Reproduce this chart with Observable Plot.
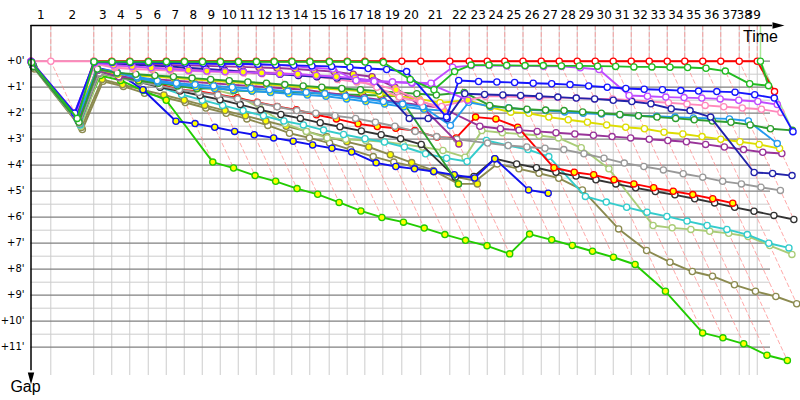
<!DOCTYPE html>
<html><head><meta charset="utf-8">
<script src="https://cdn.jsdelivr.net/npm/d3@7"></script>
<script src="https://cdn.jsdelivr.net/npm/@observablehq/plot@0.6"></script>
<style>body{margin:0;background:#fff;overflow:hidden}</style>
</head><body><div id="chart"></div>
<script>
// ---- data ----
const lapLabels = [1,2,3,4,5,6,7,8,9,10,11,12,13,14,15,16,17,18,19,20,21,22,23,24,25,26,27,28,29,30,31,32,33,34,35,36,37,38,39];
// leader's elapsed time (minutes) at the end of each lap, index = lap (0 = start); last entry = finish
const lapTimes = [0,1.65,5.23,6.73,8.23,9.77,11.27,12.77,14.27,15.77,
  17.27,18.77,20.25,21.73,23.23,24.85,26.35,27.82,29.32,30.9,
  32.48,34.9,36.52,38.02,39.48,41.0,42.52,44.02,45.52,47.02,
  48.52,50.02,51.52,53.02,54.48,55.98,57.48,59.02,59.85,60.52,60.79];
const gapTicks = [0,1,2,3,4,5,6,7,8,9,10,11];
const _ = null;
// gap to leader (minutes) per lap, index = lap (index 40 = finish)
const red = [0,2.12,0,0,0,0,0,0,0,0, 0,0,0,0,0,0,0,0,0,0, 0,0,0,0,0,0,0,0,0,0, 0,0,0,0,0,0,0,0,_,0,1.17];
const green = [0.05,2.2,0.02,0.02,0.02,0.02,0.02,0.02,0.02,0.02, 0.02,0.02,0.02,0.02,0.02,0.02,0.02,0.03,0.05,0.7, 1.1,0.4,0.15,0.15,0.16,0.17,0.17,0.18,0.18,0.19, 0.2,0.22,0.22,0.23,0.24,0.27,0.38,0.87,_,0.94,0];
const violet = [0,1.98,0.05,0.05,0.06,0.07,0.08,0.09,0.1,0.11, 0.12,0.13,0.14,0.2,0.25,0.3,0.74,0.78,0.8,0.82, 0.85,0.23,0.17,0.17,0.18,0.18,0.2,0.2,0.25,0.32, 1.32,1.35,1.38,1.4,1.42,1.45,1.5,1.55,_,1.67];
const blue = [0.03,2.0,0.03,0.04,0.05,0.06,0.07,0.08,0.09,0.1, 0.1,0.12,0.14,0.16,0.18,0.2,0.23,0.28,0.32,0.4, 2.15,0.74,0.78,0.8,0.82,0.85,0.87,0.9,0.95,1.0, 1.05,1.08,1.1,1.13,1.15,1.17,1.19,1.29,_,1.42,2.71];
const navy = [0.06,2.1,0.05,0.1,0.13,0.17,0.2,0.25,0.3,0.35, 0.4,0.45,0.5,0.55,0.6,0.65,0.7,0.74,2.2,2.2, 2.2,1.25,1.28,1.3,1.32,1.35,1.38,1.42,1.45,1.5, 1.55,1.64,1.83,1.9,2.15,4.28,4.32,4.4];
const pink = [0,0,0,0.2,0.22,0.25,0.28,0.3,0.32,0.35, 0.38,0.42,0.45,0.5,0.55,0.6,0.7,1.0,1.38,1.57, 1.74,1.5,1.35,1.35,1.38,1.4,1.4,1.42,1.45,1.45, 1.5,1.55,1.6,1.65,1.7,1.75,1.8,1.85,_,1.97];
const darkGreen = [0.2,2.35,0.3,0.45,0.5,0.55,0.6,0.65,0.7,0.75, 0.8,0.85,0.9,0.95,1.0,1.05,1.1,1.15,1.2,1.25, 1.3,1.2,1.7,1.8,1.85,1.88,1.9,1.95,2.0,2.05, 2.1,2.15,2.2,2.25,2.3,2.35,2.45,2.6,_,_,2.66];
const skyBlue = [0.12,2.2,0.3,0.4,0.6,0.75,0.85,0.9,0.95,1.0, 1.05,1.1,1.15,1.2,1.25,1.35,1.45,1.55,1.65,1.75, 2.47,1.58,1.74,1.79,1.87,1.9,1.95,2.0,2.03,2.06, 2.1,2.12,2.15,2.18,2.2,2.22,2.3,3.17];
const yellow = [0.1,2.09,0.3,0.5,0.55,0.6,0.65,0.7,0.75,0.8, 0.85,0.9,0.95,1.0,1.05,1.1,1.15,1.25,1.35,1.45, 1.6,1.5,1.77,1.96,2.0,2.15,2.25,2.35,2.45,2.54, 2.6,2.73,2.8,2.9,3.0,3.1,3.2,3.36];
const purple = [0.15,2.25,0.35,0.6,0.65,0.7,0.75,0.8,0.85,0.9, 0.95,1.0,1.05,1.1,1.2,1.3,1.4,1.5,1.6,1.7, 1.8,2.5,2.6,2.65,2.7,2.75,2.8,2.85,2.9,2.95, 3.0,3.05,3.1,3.2,3.3,3.4,3.5,3.55];
const gray = [0.2,2.4,0.45,0.65,0.8,0.95,1.1,1.2,1.3,1.45, 1.6,1.75,1.9,2.0,2.1,2.2,2.35,2.5,2.7,2.9, 3.0,3.15,3.24,3.3,3.35,3.4,3.56,3.73,3.92,4.05, 4.18,4.33,4.46,4.62,4.72,4.85,4.97];
const black = [0.2,2.4,0.45,0.6,0.8,1.0,1.15,1.32,1.48,1.67, 1.87,2.05,2.2,2.37,2.52,2.68,2.83,2.98,3.2,4.46, 4.43,3.75,3.95,4.1,4.27,4.42,4.56,4.72,4.87,5.01, 5.14,5.29,5.45,5.62,5.77,5.93,6.09];
const cyan = [0.2,2.45,0.4,0.55,0.75,1.0,1.28,1.5,1.7,1.9, 2.1,2.3,2.45,2.65,2.82,2.98,3.11,3.3,3.56,3.73, 3.86,3.05,3.24,3.4,3.67,5.2,5.42,5.62,5.81,5.97, 6.15,6.32,6.47,6.67,7.0,7.18];
const paleGreen = [0.22,2.5,0.5,0.6,0.7,0.8,0.9,1.0,1.1,1.3, 1.8,2.4,2.7,2.95,3.0,3.05,3.1,3.2,3.3,3.43, 3.69,2.67,2.75,2.8,2.86,2.95,3.33,4.14,6.32,6.41, 6.47,6.54,6.62,6.74,7.09,7.43];
const olive = [0.3,2.63,0.77,0.97,1.23,1.4,1.59,1.8,2.0,2.22, 2.47,2.77,2.95,3.15,3.4,3.67,3.88,4.05,4.25,4.45, 4.6,3.95,4.14,4.31,4.5,4.95,6.45,7.28,7.73,8.09, 8.27,8.6,8.85,9.05,9.33];
const redB = [0.1,2.2,0.3,0.55,0.74,0.87,1.1,1.15,1.28,1.41, 1.58,1.74,1.87,2.06,2.22,2.41,2.51,2.58,2.67,2.92, 2.95,2.15,2.22,2.54,4.1,4.27,4.37,4.56,4.72,4.87, 5.0,5.13,5.29,5.46];
const limeB = [0.2,2.4,0.55,0.74,1.13,1.5,3.88,4.11,4.4,4.62, 4.9,5.12,5.43,5.76,6.01,6.19,6.42,6.67,6.89,7.1, 7.41,6.65,6.87,7.09,7.31,7.54,7.82,8.85,10.45,10.64, 10.87,11.31,11.51];
const blueB = [0.15,2.3,0.25,0.42,1.1,2.31,2.4,2.54,2.7,2.83, 2.95,3.08,3.22,3.35,3.49,3.91,4.05,4.14,4.24,4.37, 4.49,3.75,4.95,5.08];
const darkGreenB = [0.18,2.3,0.35,0.6,0.75,0.85,0.95,1.06,1.02,1.13, 1.15,1.18,1.2,1.22,1.25,1.28,1.3,1.32,1.35,4.72];
const oliveB = [0.25,2.55,0.7,0.9,1.1,1.3,1.5,1.7,1.9,2.1, 2.3,2.5,2.7,2.9,3.1,3.3,3.6,3.9,4.2,4.72, 4.72];
const purpleB = [0.02,2.0,0.05,0.08,0.1,0.12,0.14,0.16,0.18,0.2, 0.22,0.24,0.26,0.3,0.35,0.4,0.5,0.6,1.0,1.8, 3.18];
const violetB = [0.04,2.05,0.06,0.15,0.2,0.25,0.3,0.35,0.38,0.4, 0.42,0.45,0.48,0.5,0.55,0.6,0.65,0.75,0.8,0.85, 0.9,1.5];
const pinkB = [0.07,2.1,0.1,0.25,0.3,0.33,0.36,0.38,0.4,0.42, 0.45,0.48,0.5,0.55,0.6,0.7,0.8,0.9,1.1,1.5, 1.9];
const skyBlueB = [0.12,2.2,0.3,0.45,0.65,0.8,0.9,0.98,1.05,1.1, 1.15,1.2,1.25,1.3,1.35,1.45,1.55,1.65,1.75,1.85, 1.9];

// series: [gaps, line colour, marker fill] — drawn bottom to top
const series = [
  [red, "#ff0000", "#fff"],
  [olive, "#8b8a4f", "#fff"], [oliveB, "#8b8a4f", "#ffff00"],
  [limeB, "#22cc00", "#ffff00"], [paleGreen, "#aacc77", "#fff"],
  [cyan, "#33cccc", "#fff"], [black, "#333333", "#fff"],
  [redB, "#ff0000", "#ffff00"], [blueB, "#1010ee", "#ffff00"],
  [gray, "#999999", "#fff"], [darkGreenB, "#2e9e2e", "#ffff00"],
  [purpleB, "#993399", "#ffff00"], [purple, "#993399", "#fff"],
  [yellow, "#dddd00", "#fff"], [skyBlueB, "#2299ee", "#ffff00"],
  [skyBlue, "#2299ee", "#fff"], [darkGreen, "#2e9e2e", "#fff"],
  [pinkB, "#ff88bb", "#ffff00"], [pink, "#ff88bb", "#fff"],
  [navy, "#2222aa", "#fff"], [violetB, "#c04cff", "#ffff00"],
  [violet, "#c04cff", "#fff"], [blue, "#1515ff", "#fff"],
  [green, "#22bb22", "#fff"]
];

// ---- layout (pixel mapping of the minute scales) ----
const W = 800, H = 400;
const x0 = 30.5, xPerMin = 12, y0 = 60.7, yPerMin = 26;
const gTop = (25 - y0) / yPerMin, gGridBottom = (375 - y0) / yPerMin, gAxisBottom = (378 - y0) / yPerMin;
const tGridRight = (770 - x0) / xPerMin, tArrow = (778 - x0) / xPerMin;

const rowsFor = (gaps) => gaps.map((g, lap) => g == null ? null : {lap, gap: g, time: lapTimes[lap] + g}).filter(d => d);
const lastLap = lapLabels.length;          // 39
const finish = lapTimes.length - 1;        // 40
const lapMax = lapTimes.map((t, lap) => d3.max(series, s => s[0][lap] ?? undefined) ?? 0);
const lapLines = [];
for (let lap = 1; lap <= finish; lap++) {
  const t = lapTimes[lap], g = lapMax[lap];
  lapLines.push({lap, time: t, gap: gTop}, {lap, time: t, gap: 0}, {lap, time: t + g, gap: g});
}
const minorGaps = d3.range(0.5, 11, 1);

const arrowRight = {draw(c) { c.moveTo(6, 0); c.lineTo(-6, -3.2); c.lineTo(-6, 3.2); c.closePath(); }};
const arrowDown = {draw(c) { c.moveTo(0, 6); c.lineTo(-3.2, -6); c.lineTo(3.2, -6); c.closePath(); }};

const marks = [
  Plot.ruleY(minorGaps, {x1: 0, x2: tGridRight, stroke: "#cccccc", strokeWidth: 1}),
  Plot.ruleX(lapTimes.slice(1, lastLap + 1), {y1: gTop, y2: gGridBottom, stroke: "#cccccc", strokeWidth: 1}),
  Plot.ruleY(gapTicks, {x1: 0, x2: tGridRight, stroke: "#808080", strokeWidth: 1.2}),
  Plot.line(lapLines.filter(d => d.lap <= lastLap), {x: "time", y: "gap", z: "lap", stroke: "#ff8c8c", strokeOpacity: 0.75, strokeWidth: 1, strokeDasharray: "4,3"}),
  Plot.line(lapLines.filter(d => d.lap === finish), {x: "time", y: "gap", stroke: "#a8e898", strokeWidth: 1.5}),
];
for (const [gaps, color, fill] of series) {
  const pts = rowsFor(gaps);
  marks.push(Plot.line(pts, {x: "time", y: "gap", stroke: color, strokeWidth: 1.9}));
  marks.push(Plot.dot(pts, {x: "time", y: "gap", r: 3.1, stroke: color, fill, strokeWidth: 1.3}));
}
marks.push(
  Plot.ruleY([gTop], {x1: 0, x2: tArrow - 0.5, stroke: "#000", strokeWidth: 1.5}),
  Plot.ruleX([0], {y1: gTop, y2: gAxisBottom - 0.3, stroke: "#000", strokeWidth: 1.5}),
  Plot.dot([0], {x: tArrow, y: gTop, symbol: arrowRight, fill: "#000", stroke: "none"}),
  Plot.dot([0], {x: 0, y: gAxisBottom, symbol: arrowDown, fill: "#000", stroke: "none"}),
  Plot.text(lapLabels, {x: d => (lapTimes[d - 1] + lapTimes[d]) / 2, y: (15 - y0) / yPerMin, text: d => String(d), fontSize: 12, fontFamily: "DejaVu Sans", fill: "#000"}),
  Plot.text(gapTicks, {x: (24 - x0) / xPerMin, y: d => d, text: d => `+${d}'`, textAnchor: "end", fontSize: 10, fontFamily: "DejaVu Sans", fill: "#000"}),
  Plot.text(["Time"], {x: (760 - x0) / xPerMin, y: (36 - y0) / yPerMin, text: d => d, fontSize: 16, fontFamily: "Liberation Sans", fill: "#000"}),
  Plot.text(["Gap"], {x: (25 - x0) / xPerMin, y: (386 - y0) / yPerMin, text: d => d, fontSize: 16, fontFamily: "Liberation Sans", fill: "#000"})
);

const chart = Plot.plot({
  width: W, height: H, margin: 0,
  x: {domain: [-x0 / xPerMin, (W - x0) / xPerMin], range: [0, W], axis: null},
  y: {domain: [-y0 / yPerMin, (H - y0) / yPerMin], range: [0, H], axis: null},
  style: {background: "#fff", overflow: "visible"},
  marks
});
document.getElementById("chart").appendChild(chart);
</script>
</body></html>
